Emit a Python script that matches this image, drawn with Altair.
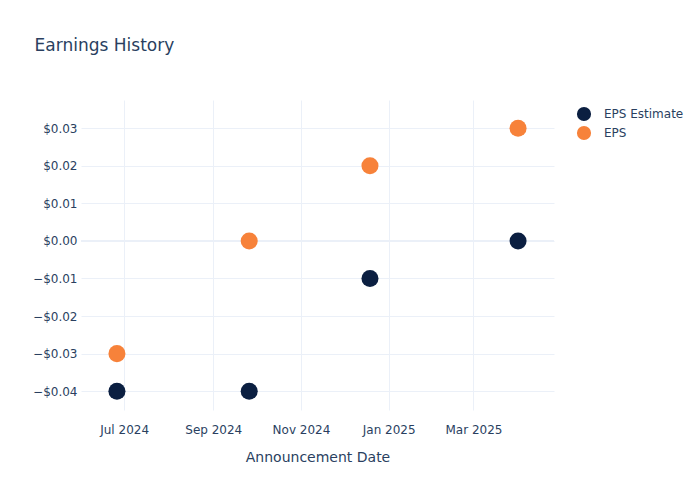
import altair as alt
import pandas as pd

dates = ["2024-06-26", "2024-09-26", "2024-12-19", "2025-04-01"]
eps_estimate = [-0.04, -0.04, -0.01, 0.00]
eps_actual = [-0.03, 0.00, 0.02, 0.03]
series = ["EPS Estimate", "EPS"]
colors = ["#0b1f41", "#f7823a"]
tick_months = [(2024, 7), (2024, 9), (2024, 11), (2025, 1), (2025, 3)]

FONT = "DejaVu Sans"
TEXT = "#2a3f5f"
GRID = "#ebf0f8"

df = pd.DataFrame({"date": dates, "EPS Estimate": eps_estimate, "EPS": eps_actual})
long = df.melt(id_vars="date", var_name="series", value_name="value")

x_axis = alt.Axis(
    values=[alt.DateTime(year=y, month=m, date=1) for y, m in tick_months],
    format="%b %Y",
    title="Announcement Date",
    grid=True,
    gridColor=GRID,
    domain=False,
    ticks=False,
    labelPadding=14,
    titlePadding=15,
)
y_axis = alt.Axis(
    format="$.2f",
    values=[-0.04, -0.03, -0.02, -0.01, 0.0, 0.01, 0.02, 0.03],
    title=None,
    grid=True,
    gridColor=GRID,
    domain=False,
    ticks=False,
    labelPadding=4,
)

points = (
    alt.Chart(long)
    .mark_circle(size=290, opacity=1)
    .encode(
        x=alt.X("date:T")
        .axis(x_axis)
        .scale(
            domain=[
                alt.DateTime(year=2024, month=6, date=1),
                alt.DateTime(year=2025, month=4, date=26),
            ]
        ),
        y=alt.Y("value:Q").axis(y_axis).scale(domain=[-0.045, 0.0375], nice=False, zero=False),
        color=alt.Color("series:N")
        .scale(domain=series, range=colors)
        .legend(
            title=None,
            orient="none",
            legendX=495,
            legendY=6,
            symbolType="circle",
            symbolSize=200,
            symbolOpacity=1,
            labelFontSize=12,
            labelColor=TEXT,
            labelFont=FONT,
            labelOffset=12,
            padding=0,
            rowPadding=3,
        ),
        order=alt.Order("series:N", sort="descending"),
    )
)

zero_line = (
    alt.Chart(pd.DataFrame({"value": [0.0]}))
    .mark_rule(color=GRID, strokeWidth=2)
    .encode(y="value:Q")
)

chart = (
    alt.layer(zero_line, points)
    .properties(
        width=473,
        height=310,
        padding={"left": 24, "top": 29, "right": 5, "bottom": 5},
        title=alt.TitleParams(
            "Earnings History",
            anchor="start",
            frame="bounds",
            fontSize=17,
            fontWeight="normal",
            color=TEXT,
            font=FONT,
            offset=45,
            dx=2,
        ),
    )
    .configure_view(stroke=None)
    .configure_axis(
        labelFont=FONT,
        labelFontSize=12,
        labelColor=TEXT,
        titleFont=FONT,
        titleFontSize=14,
        titleColor=TEXT,
        titleFontWeight="normal",
    )
)

chart.save("out.html", embed_options={"renderer": "svg", "actions": False})
